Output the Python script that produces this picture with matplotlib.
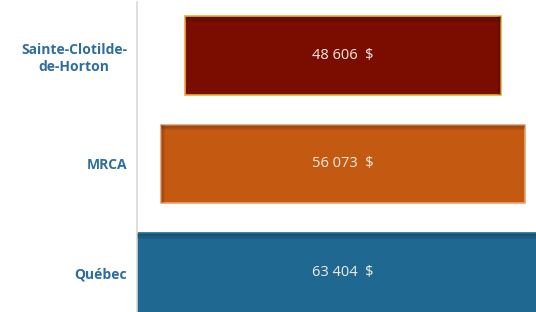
import matplotlib.pyplot as plt

# Données
regions = ["Québec", "MRCA", "Sainte-Clotilde-\nde-Horton"]
revenus = [63404, 56073, 48606]
couleurs = ["#1f6891", "#c45a11", "#7b0d00"]
bordures = ["#1f6891", "#f0a070", "#e8b030"]
etiquettes = ["63 404  $", "56 073  $", "48 606  $"]
# côté de l'ombre latérale (-1 gauche, 1 droite, 0 aucune)
ombre_cote = [0, -1, 1]

fig = plt.figure(figsize=(5.36, 3.12), dpi=100)
ax = fig.add_axes([137 / 536, 0, 399 / 536, 310 / 312])

hauteur = 0.728
pos = range(len(regions))

# Barres centrées (forme d'entonnoir)
gauche = [-v / 2 for v in revenus]
ax.barh(pos, revenus, left=gauche, height=hauteur, color=couleurs,
        edgecolor=bordures, linewidth=1.2, zorder=2)

# Ombre intérieure
larg = 160
for k in range(4):
    a = 0.22 - 0.05 * k
    ax.barh([p + hauteur / 2 - 0.012 * (k + 1) for p in pos], revenus, left=gauche,
            height=0.012, color="black", alpha=a, linewidth=0, zorder=3)
    for p, v, c in zip(pos, revenus, ombre_cote):
        if c == 0:
            continue
        x0 = -v / 2 + larg * k if c < 0 else v / 2 - larg * (k + 1)
        ax.barh(p, larg, left=x0, height=hauteur, color="black", alpha=a,
                linewidth=0, zorder=3)

for p, txt in zip(pos, etiquettes):
    ax.text(0, p, txt, color="#f3ece6", fontsize=10.5, ha="center", va="center",
            family="Open Sans", zorder=4)

ax.set_xlim(-63404 / 2, -63404 / 2 + 61375)
ax.set_ylim(-0.364, 2.493)

ax.set_yticks(list(pos))
ax.set_yticklabels(regions, color="#2e6e9e", fontsize=10, fontweight="bold",
                   family="Open Sans", linespacing=1.3, multialignment="center")
ax.tick_params(axis="y", length=0, pad=7)
ax.set_xticks([])

for s in ["top", "right", "bottom"]:
    ax.spines[s].set_visible(False)
ax.spines["left"].set_color("#d9d9d9")
ax.spines["left"].set_linewidth(1.2)

fig.savefig("out.png", dpi=100)
